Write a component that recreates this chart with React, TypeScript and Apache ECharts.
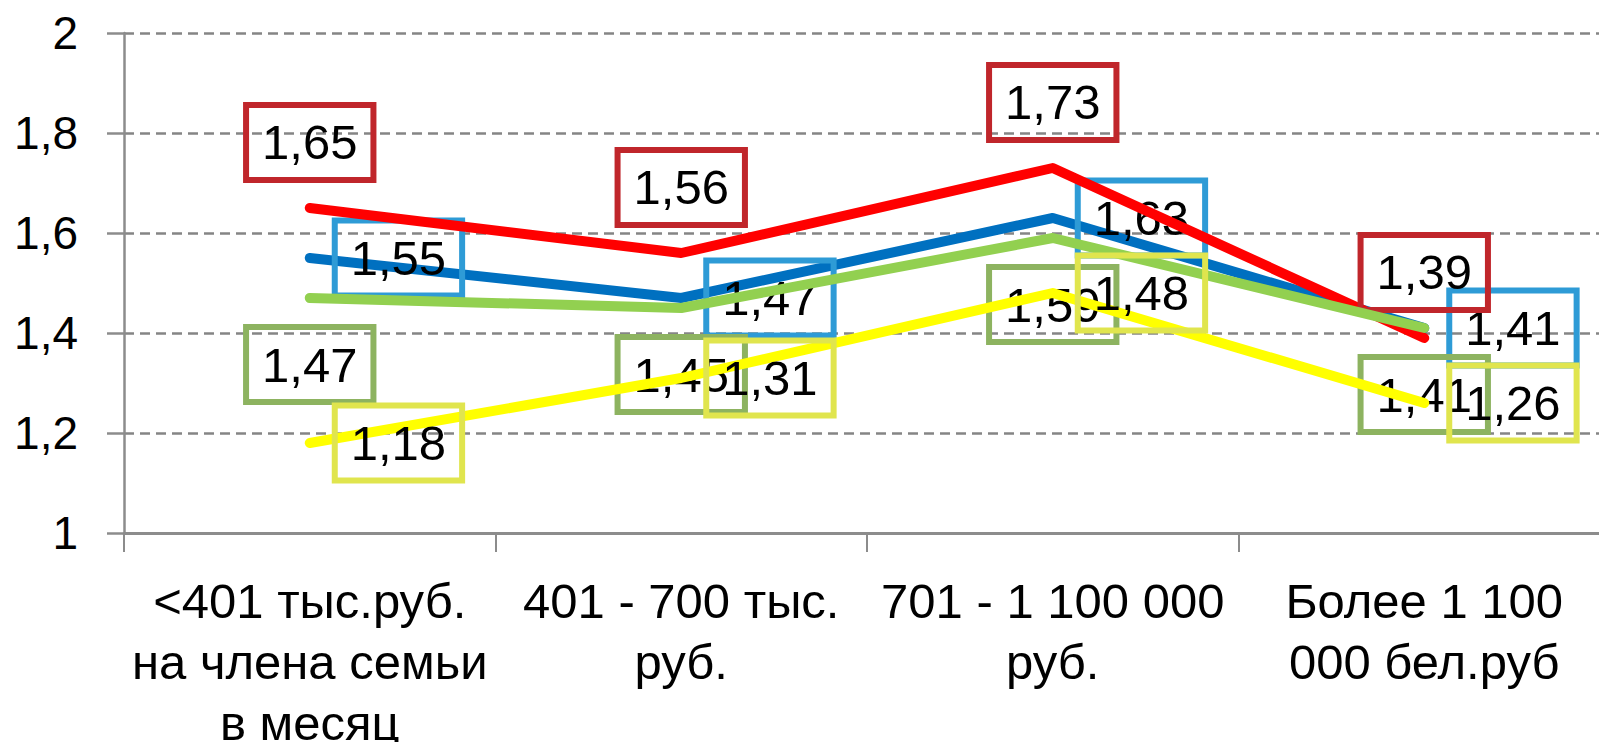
import React, { useEffect, useRef } from "react";
import * as echarts from "echarts";

const categories = [
  "<401 тыс.руб.\nна члена семьи\nв месяц",
  "401 - 700 тыс.\nруб.",
  "701 - 1 100 000\nруб.",
  "Более 1 100\n000 бел.руб",
];
const redValues = [1.65, 1.56, 1.73, 1.39];
const blueValues = [1.55, 1.47, 1.63, 1.41];
const greenValues = [1.47, 1.45, 1.59, 1.41];
const yellowValues = [1.18, 1.31, 1.48, 1.26];
const yMin = 1;
const yMax = 2;
const yInterval = 0.2;

const FONT = "'Liberation Sans', Arial, sans-serif";
const fmt = (v: number) => v.toFixed(2).replace(".", ",");

function makeSeries(
  name: string,
  data: number[],
  color: string,
  border: string,
  position: string,
  distance: number,
  z: number
) {
  return {
    name,
    type: "line",
    data,
    z,
    symbol: "circle",
    symbolSize: 0.01,
    showSymbol: true,
    lineStyle: { color, width: 10, cap: "round", join: "round" },
    itemStyle: { color },
    label: {
      show: true,
      position,
      distance,
      formatter: (p: any) => fmt(p.value),
      fontFamily: FONT,
      fontSize: 49,
      lineHeight: 49,
      color: "#000",
      borderColor: border,
      borderWidth: 3,
      padding: [13, 16, 13, 16],
      backgroundColor: "transparent",
    },
    labelLayout: { hideOverlap: false },
  };
}

export default function App() {
  const ref = useRef<HTMLDivElement>(null);
  useEffect(() => {
    if (!ref.current) return;
    const chart = echarts.init(ref.current, undefined, { renderer: "svg" });
    chart.setOption({
      animation: false,
      backgroundColor: "#fff",
      grid: {
        left: 124,
        top: 33,
        bottom: 209,
        right: -11,
        containLabel: false,
        outerBoundsMode: "none",
      },
      xAxis: {
        type: "category",
        data: categories,
        boundaryGap: true,
        axisLine: { show: true, lineStyle: { color: "#8c8c8c", width: 3 } },
        axisTick: { show: true, length: 19, lineStyle: { color: "#8c8c8c", width: 2 } },
        axisLabel: {
          margin: 37,
          fontFamily: FONT,
          fontSize: 49,
          lineHeight: 61,
          color: "#000",
          interval: 0,
          align: "center",
        },
        splitLine: { show: false },
      },
      yAxis: {
        type: "value",
        min: yMin,
        max: yMax,
        interval: yInterval,
        axisLine: { show: true, lineStyle: { color: "#8c8c8c", width: 2.5 } },
        axisTick: { show: true, length: 17, lineStyle: { color: "#8c8c8c", width: 2.5 } },
        axisLabel: {
          margin: 46,
          fontFamily: FONT,
          fontSize: 46,
          color: "#000",
          formatter: (v: number) => String(Number(v.toFixed(1))).replace(".", ","),
        },
        splitLine: {
          show: true,
          lineStyle: { color: "#858585", width: 2.5, type: [10, 6] },
        },
      },
      series: [
        makeSeries("red", redValues, "#ff0000", "#c0262b", "top", 28, 3),
        makeSeries("blue", blueValues, "#0070c0", "#2e9bd6", "right", 25, 2),
        makeSeries("green", greenValues, "#92d050", "#8db360", "bottom", 29, 4),
        makeSeries("yellow", yellowValues, "#ffff00", "#e0e54e", "right", 25, 5),
      ],
    });
    return () => chart.dispose();
  }, []);
  return (
    <div
      ref={ref}
      style={{ position: "absolute", left: 0, top: 0, width: 1599, height: 742 }}
    />
  );
}
